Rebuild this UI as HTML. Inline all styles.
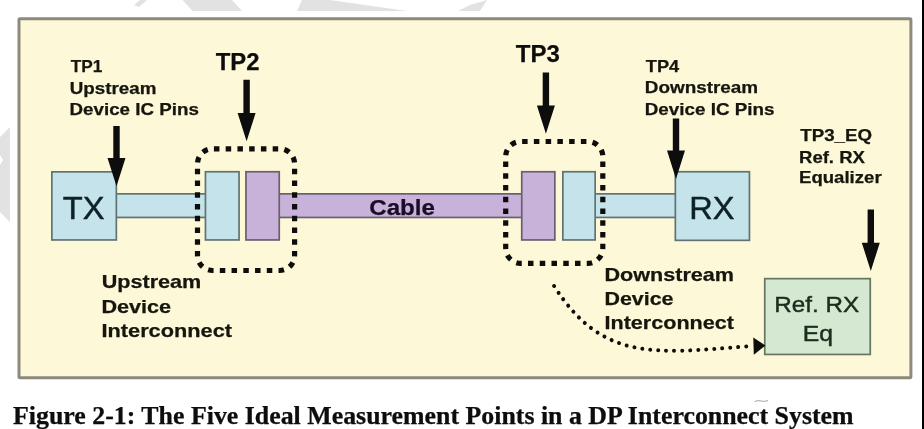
<!DOCTYPE html>
<html><head><meta charset="utf-8"><title>DP Measurement Points</title>
<style>
html,body{margin:0;padding:0;width:924px;height:429px;overflow:hidden;background:#ffffff;}
svg{display:block;}

</style></head><body>
<svg width="924" height="429" viewBox="0 0 924 429">
<defs><filter id="soft" x="0" y="0" width="100%" height="100%"><feGaussianBlur stdDeviation="0.4"/></filter></defs>
<g filter="url(#soft)">
<polygon points="134,5 140,0 147,0 139,7" fill="#e2e2e2"/>
<polygon points="182.5,0 232,0 242,11 192.5,11" fill="#e2e2e2"/>
<polygon points="297,11 302,0 330,0 400,10 407,11" fill="#e2e2e2"/>
<polygon points="458,11 470,5 487,0 480,11" fill="#e2e2e2"/>
<polygon points="0,137 9,128 10,128 10,222 0,212 0,165 3,160 0,155" fill="#e2e2e2"/>
<rect x="922" y="0" width="2" height="429" fill="#050505"/>
<rect x="19" y="18.8" width="891.9" height="358.9" rx="1" fill="#fdf9d8" stroke="#8d897d" stroke-width="3"/>
<rect x="115.85" y="193.85" width="90.30" height="23.60" fill="#c4e3ea" stroke="#627272" stroke-width="1.7"/>
<rect x="278.85" y="193.85" width="243.30" height="23.60" fill="#c8b2da" stroke="#6a5e72" stroke-width="1.7"/>
<rect x="594.85" y="193.85" width="81.30" height="23.60" fill="#c4e3ea" stroke="#627272" stroke-width="1.7"/>
<rect x="51.85" y="171.85" width="64.50" height="68.10" fill="#c4e3ea" stroke="#627272" stroke-width="1.7"/>
<rect x="205.45" y="171.75" width="33.60" height="68.20" fill="#c4e3ea" stroke="#627272" stroke-width="1.7"/>
<rect x="245.95" y="171.75" width="33.30" height="68.20" fill="#c8b2da" stroke="#6a5e72" stroke-width="1.7"/>
<rect x="521.75" y="171.75" width="33.10" height="68.20" fill="#c8b2da" stroke="#6a5e72" stroke-width="1.7"/>
<rect x="562.85" y="171.75" width="32.30" height="68.20" fill="#c4e3ea" stroke="#627272" stroke-width="1.7"/>
<rect x="675.35" y="171.75" width="74.10" height="68.60" fill="#c4e3ea" stroke="#627272" stroke-width="1.7"/>
<rect x="764.75" y="278.65" width="105.50" height="75.80" fill="#d4e8d2" stroke="#66755f" stroke-width="1.7"/>
<path d="M246.05,148.80 H279.60 A15,15 0 0 1 294.60,163.80 V255.50 A15,15 0 0 1 279.60,270.50 H212.50 A15,15 0 0 1 197.50,255.50 V163.80 A15,15 0 0 1 212.50,148.80 Z" fill="none" stroke="#111008" stroke-width="5.2" pathLength="35" stroke-dasharray="0.47 0.53" stroke-dashoffset="0.735"/>
<path d="M554.25,141.50 H587.80 A15,15 0 0 1 602.80,156.50 V248.30 A15,15 0 0 1 587.80,263.30 H520.70 A15,15 0 0 1 505.70,248.30 V156.50 A15,15 0 0 1 520.70,141.50 Z" fill="none" stroke="#111008" stroke-width="5.2" pathLength="35" stroke-dasharray="0.47 0.53" stroke-dashoffset="0.735"/>
<path d="M554.1,286 C601.7,360.6 652.4,353.9 746.3,346.4" fill="none" stroke="#111008" stroke-width="4" stroke-linecap="round" stroke-dasharray="0.01 8"/>
<polygon points="753.3,337.6 765.4,345.6 753.8,354.8" fill="#0c0c0c"/>
<polygon points="113.30,126.00 119.70,126.00 119.70,157.90 125.50,157.90 116.50,186.20 107.50,157.90 113.30,157.90" fill="#0c0c0c"/>
<polygon points="243.40,79.70 249.80,79.70 249.80,113.00 255.60,113.00 246.60,141.30 237.60,113.00 243.40,113.00" fill="#0c0c0c"/>
<polygon points="542.70,72.60 549.10,72.60 549.10,105.50 554.90,105.50 545.90,133.80 536.90,105.50 542.70,105.50" fill="#0c0c0c"/>
<polygon points="672.80,118.40 679.20,118.40 679.20,150.60 685.00,150.60 676.00,178.90 667.00,150.60 672.80,150.60" fill="#0c0c0c"/>
<polygon points="867.60,209.40 874.00,209.40 874.00,242.70 879.80,242.70 870.80,271.00 861.80,242.70 867.60,242.70" fill="#0c0c0c"/>
<text x="70.75" y="72.1" font-family="Liberation Sans" font-weight="700" font-size="16.5" textLength="31.62" lengthAdjust="spacingAndGlyphs" fill="#151510" stroke="#151510" stroke-width="0.25">TP1</text>
<text x="69.75" y="93.9" font-family="Liberation Sans" font-weight="700" font-size="16.5" textLength="86.63" lengthAdjust="spacingAndGlyphs" fill="#151510" stroke="#151510" stroke-width="0.25">Upstream</text>
<text x="69.5" y="114.9" font-family="Liberation Sans" font-weight="700" font-size="16.5" textLength="129.43" lengthAdjust="spacingAndGlyphs" fill="#151510" stroke="#151510" stroke-width="0.25">Device IC Pins</text>
<text x="215.75" y="69.7" font-family="Liberation Sans" font-weight="700" font-size="23" textLength="43.74" lengthAdjust="spacingAndGlyphs" fill="#101010" stroke="#101010" stroke-width="0.25">TP2</text>
<text x="515.75" y="61.9" font-family="Liberation Sans" font-weight="700" font-size="23" textLength="44.09" lengthAdjust="spacingAndGlyphs" fill="#101010" stroke="#101010" stroke-width="0.25">TP3</text>
<text x="645.75" y="72.0" font-family="Liberation Sans" font-weight="700" font-size="16.5" textLength="33.47" lengthAdjust="spacingAndGlyphs" fill="#151510" stroke="#151510" stroke-width="0.25">TP4</text>
<text x="644.75" y="93.4" font-family="Liberation Sans" font-weight="700" font-size="16.5" textLength="113.43" lengthAdjust="spacingAndGlyphs" fill="#151510" stroke="#151510" stroke-width="0.25">Downstream</text>
<text x="644.75" y="114.7" font-family="Liberation Sans" font-weight="700" font-size="16.5" textLength="129.78" lengthAdjust="spacingAndGlyphs" fill="#151510" stroke="#151510" stroke-width="0.25">Device IC Pins</text>
<text x="800.25" y="141.1" font-family="Liberation Sans" font-weight="700" font-size="16.5" textLength="71.73" lengthAdjust="spacingAndGlyphs" fill="#151510" stroke="#151510" stroke-width="0.25">TP3_EQ</text>
<text x="799.0" y="162.5" font-family="Liberation Sans" font-weight="700" font-size="16.5" textLength="65.89" lengthAdjust="spacingAndGlyphs" fill="#151510" stroke="#151510" stroke-width="0.25">Ref. RX</text>
<text x="799.0" y="183.0" font-family="Liberation Sans" font-weight="700" font-size="16.5" textLength="82.61" lengthAdjust="spacingAndGlyphs" fill="#151510" stroke="#151510" stroke-width="0.25">Equalizer</text>
<text x="62.75" y="218.8" font-family="Liberation Sans" font-weight="400" font-size="32" textLength="41.74" lengthAdjust="spacingAndGlyphs" fill="#0f2226" stroke="#0f2226" stroke-width="0.45">TX</text>
<text x="689.25" y="218.8" font-family="Liberation Sans" font-weight="400" font-size="32" textLength="45.2" lengthAdjust="spacingAndGlyphs" fill="#0f2226" stroke="#0f2226" stroke-width="0.45">RX</text>
<text x="369.25" y="214.8" font-family="Liberation Sans" font-weight="700" font-size="22" textLength="65.77" lengthAdjust="spacingAndGlyphs" fill="#1a1028" stroke="#1a1028" stroke-width="0.25">Cable</text>
<text x="101.75" y="287.7" font-family="Liberation Sans" font-weight="700" font-size="19" textLength="99.56" lengthAdjust="spacingAndGlyphs" fill="#151510" stroke="#151510" stroke-width="0.25">Upstream</text>
<text x="101.5" y="312.5" font-family="Liberation Sans" font-weight="700" font-size="19" textLength="69.63" lengthAdjust="spacingAndGlyphs" fill="#151510" stroke="#151510" stroke-width="0.25">Device</text>
<text x="101.5" y="336.9" font-family="Liberation Sans" font-weight="700" font-size="19" textLength="130.48" lengthAdjust="spacingAndGlyphs" fill="#151510" stroke="#151510" stroke-width="0.25">Interconnect</text>
<text x="604.5" y="280.8" font-family="Liberation Sans" font-weight="700" font-size="19" textLength="129.48" lengthAdjust="spacingAndGlyphs" fill="#151510" stroke="#151510" stroke-width="0.25">Downstream</text>
<text x="604.5" y="304.5" font-family="Liberation Sans" font-weight="700" font-size="19" textLength="68.98" lengthAdjust="spacingAndGlyphs" fill="#151510" stroke="#151510" stroke-width="0.25">Device</text>
<text x="604.5" y="329.3" font-family="Liberation Sans" font-weight="700" font-size="19" textLength="129.48" lengthAdjust="spacingAndGlyphs" fill="#151510" stroke="#151510" stroke-width="0.25">Interconnect</text>
<text x="774.25" y="312.3" font-family="Liberation Sans" font-weight="400" font-size="22" textLength="84.88" lengthAdjust="spacingAndGlyphs" fill="#1a2e1e" stroke="#1a2e1e" stroke-width="0.45">Ref. RX</text>
<text x="802.75" y="340.8" font-family="Liberation Sans" font-weight="400" font-size="22" textLength="30.22" lengthAdjust="spacingAndGlyphs" fill="#1a2e1e" stroke="#1a2e1e" stroke-width="0.45">Eq</text>
<text x="13.0" y="423.5" font-family="Liberation Serif" font-weight="700" font-size="26" textLength="840.62" lengthAdjust="spacingAndGlyphs" fill="#0a0a0a" stroke="#0a0a0a" stroke-width="0.25">Figure 2-1: The Five Ideal Measurement Points in a DP Interconnect System</text>
<path d="M754.5,401.5 Q758,400 761,401 T768,400.6" fill="none" stroke="#9a9a9a" stroke-width="0.9"/>
</g>
</svg>
</body></html>
